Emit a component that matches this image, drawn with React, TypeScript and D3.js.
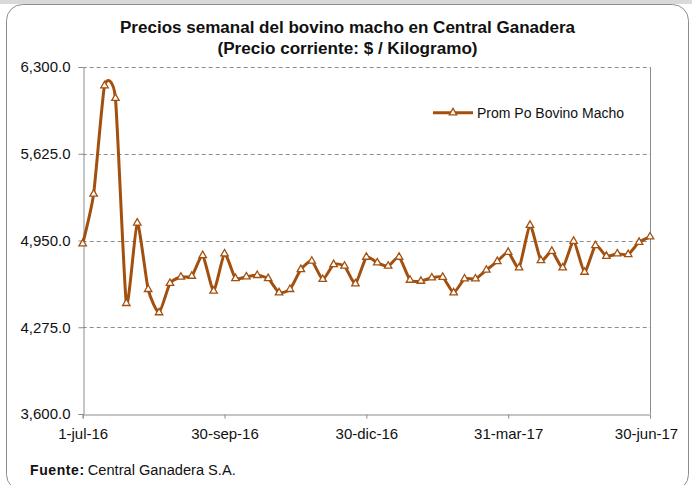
import React, { useEffect, useRef } from 'react';
import * as d3 from 'd3';

// weekly average price, $/kg, from 1-jul-16
const startDate = new Date(2016, 6, 1);
const prices = [
  4925, 5312, 6155, 6057, 4461, 5087, 4570, 4389, 4617, 4666,
  4673, 4834, 4557, 4847, 4655, 4668, 4679, 4655, 4544, 4570,
  4725, 4790, 4648, 4764, 4751, 4614, 4821, 4777, 4751, 4821,
  4642, 4634, 4660, 4665, 4544, 4652, 4652, 4720, 4787, 4859,
  4738, 5069, 4795, 4867, 4738, 4945, 4704, 4911, 4828, 4847,
  4842, 4937, 4979,
];
const yTicks = [3600, 4275, 4950, 5625, 6300];
const xTickDates = [
  new Date(2016, 6, 1),
  new Date(2016, 8, 30),
  new Date(2016, 11, 30),
  new Date(2017, 2, 31),
  new Date(2017, 5, 30),
];
const xTickLabels = ['1-jul-16', '30-sep-16', '30-dic-16', '31-mar-17', '30-jun-17'];
const seriesName = 'Prom Po Bovino Macho';

const W = 692;
const H = 485;
const FONT = '"Liberation Sans", Arial, sans-serif';
const BROWN = '#A3500F';

const App = () => {
  const svgRef = useRef<SVGSVGElement>(null);

  useEffect(() => {
    const svg = d3.select(svgRef.current);
    svg.selectAll('*').remove();

    const plot = { left: 82.7, right: 650, top: 67, bottom: 414 };

    const data = prices.map((v, i) => ({ date: d3.timeDay.offset(startDate, 7 * i), value: v }));

    const x = d3.scaleTime()
      .domain([xTickDates[0], xTickDates[xTickDates.length - 1]])
      .range([plot.left, plot.right]);

    const y = d3.scaleLinear()
      .domain([3600, 6300])
      .range([plot.bottom, plot.top]);

    // background band + frame
    svg.append('rect').attr('x', 0).attr('y', 0).attr('width', W).attr('height', 4).attr('fill', '#d9d9d9');
    svg.append('rect')
      .attr('x', 6.5).attr('y', 4.5).attr('width', 682).attr('height', 486)
      .attr('rx', 16).attr('fill', '#fff').attr('stroke', '#8c8c8c').attr('stroke-width', 1);

    // title
    const title = svg.append('text')
      .attr('font-family', FONT).attr('font-weight', 'bold').attr('font-size', 16)
      .attr('fill', '#111').attr('text-anchor', 'middle');
    title.append('tspan').attr('x', 347.5).attr('y', 33.3)
      .attr('textLength', 455).attr('lengthAdjust', 'spacingAndGlyphs')
      .text('Precios semanal del bovino  macho en Central Ganadera');
    title.append('tspan').attr('x', 347.5).attr('y', 53.5)
      .attr('textLength', 260).attr('lengthAdjust', 'spacingAndGlyphs')
      .text('(Precio corriente: $ / Kilogramo)');

    // gridlines
    svg.append('g')
      .selectAll('line')
      .data(yTicks.filter(d => d !== 3600))
      .enter()
      .append('line')
      .attr('x1', plot.left).attr('x2', plot.right)
      .attr('y1', d => Math.round(y(d)) + 0.5).attr('y2', d => Math.round(y(d)) + 0.5)
      .attr('stroke', '#8c8c8c').attr('stroke-dasharray', '4,3');

    // right border of plot area
    svg.append('line')
      .attr('x1', plot.right + 0.5).attr('x2', plot.right + 0.5)
      .attr('y1', plot.top).attr('y2', plot.bottom)
      .attr('stroke', '#8c8c8c');

    // y axis
    const yAxis = svg.append('g')
      .attr('transform', `translate(${Math.round(plot.left) + 0.5},0)`)
      .call(d3.axisLeft(y).tickValues(yTicks).tickSize(5).tickPadding(8)
        .tickFormat(d => d3.format(',.1f')(d as number)));
    yAxis.select('.domain').attr('stroke', '#8c8c8c');
    yAxis.selectAll('.tick line').attr('stroke', '#8c8c8c');
    yAxis.selectAll('.tick text')
      .attr('font-family', FONT).attr('font-size', 15).attr('fill', '#111');

    // x axis
    const xAxis = svg.append('g')
      .attr('transform', `translate(0,${Math.round(plot.bottom) + 0.5})`)
      .call(d3.axisBottom(x).tickValues(xTickDates).tickSize(4).tickPadding(10)
        .tickFormat((d, i) => xTickLabels[i]));
    xAxis.select('.domain').attr('stroke', '#8c8c8c');
    xAxis.selectAll('.tick line').attr('stroke', '#8c8c8c');
    xAxis.selectAll('.tick text')
      .attr('font-family', FONT).attr('font-size', 15).attr('fill', '#111')
      .attr('dx', (d, i) => (i === xTickLabels.length - 1 ? -4 : 0));

    // series line (smoothed like the spreadsheet original)
    const line = d3.line<{ date: Date; value: number }>()
      .x(d => x(d.date))
      .y(d => y(d.value))
      .curve(d3.curveCardinal.tension(0.45));

    svg.append('path')
      .datum(data)
      .attr('d', line)
      .attr('fill', 'none')
      .attr('stroke', BROWN)
      .attr('stroke-width', 3)
      .attr('stroke-linejoin', 'round');

    const tri = d3.symbol().type(d3.symbolTriangle).size(24);

    svg.append('g')
      .selectAll('path')
      .data(data)
      .enter()
      .append('path')
      .attr('d', tri)
      .attr('transform', d => `translate(${x(d.date)},${y(d.value)})`)
      .attr('fill', '#fff')
      .attr('stroke', BROWN)
      .attr('stroke-width', 1.3);

    // legend
    const lg = svg.append('g').attr('transform', 'translate(433,112.7)');
    lg.append('line').attr('x1', 0).attr('x2', 40).attr('y1', 0).attr('y2', 0)
      .attr('stroke', BROWN).attr('stroke-width', 3);
    lg.append('path').attr('d', tri).attr('transform', 'translate(20,0)')
      .attr('fill', '#fff').attr('stroke', BROWN).attr('stroke-width', 1.3);
    lg.append('text').attr('x', 44).attr('y', 5)
      .attr('font-family', FONT).attr('font-size', 14).attr('fill', '#111')
      .text(seriesName);

    // source note
    const src = svg.append('text').attr('x', 30).attr('y', 475)
      .attr('font-family', FONT).attr('font-size', 14).attr('fill', '#111');
    src.append('tspan').attr('font-weight', 'bold').attr('letter-spacing', 0.6).text('Fuente:');
    src.append('tspan').attr('dx', 3).attr('textLength', 148).attr('lengthAdjust', 'spacingAndGlyphs')
      .text('Central Ganadera S.A.');
  }, []);

  return (
    <svg
      ref={svgRef}
      width={W}
      height={H}
      style={{ position: 'absolute', left: 0, top: 0, display: 'block' }}
    ></svg>
  );
};

export default App;
